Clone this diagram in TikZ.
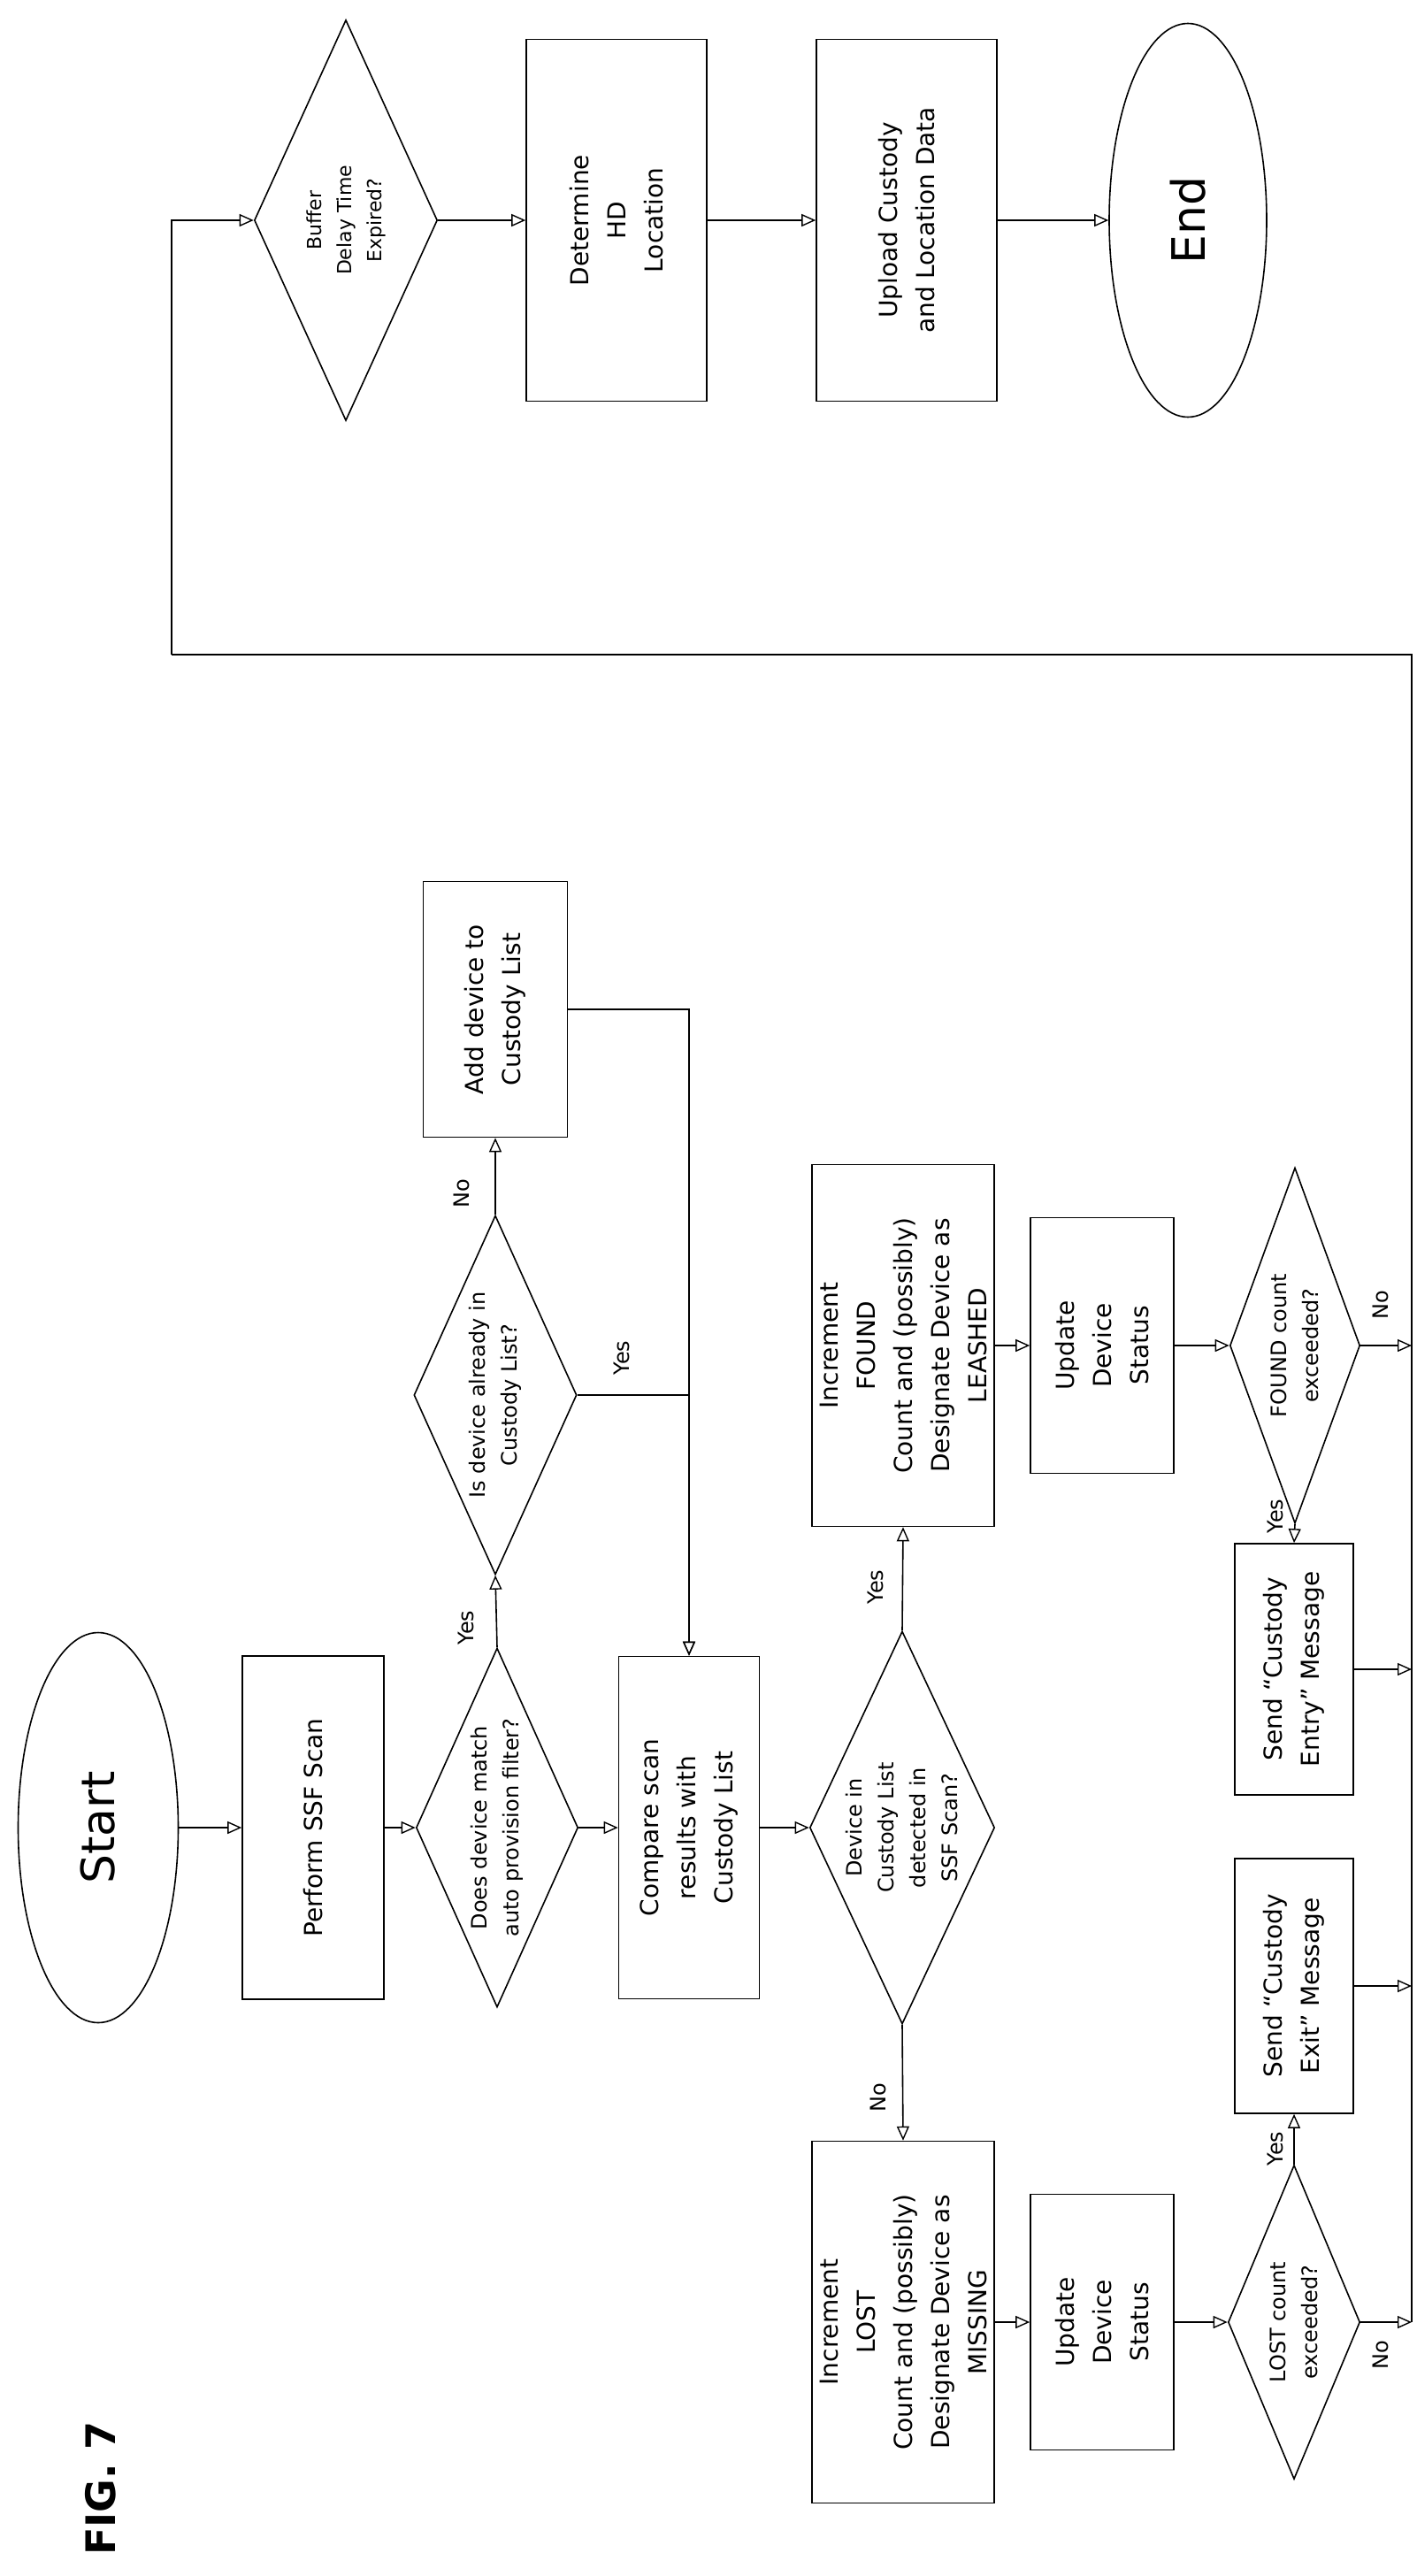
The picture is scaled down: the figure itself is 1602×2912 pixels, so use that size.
\documentclass[tikz,border=0pt]{standalone}
\usepackage{fontspec}
\setmainfont{DejaVu Sans}
\usetikzlibrary{arrows.meta,positioning,shapes.geometric}
\tikzset{
  font={\fontsize{28pt}{42pt}\selectfont}}
\begin{document}
\begin{tikzpicture}[x=1pt,y=1pt,
    block_box/.style ={rectangle, draw=black, line width=1.6pt, fill=white,
      rotate=90, align=center, inner sep=4pt},
    block_ask/.style ={diamond, draw=black, line width=1.6pt, fill=white,
      rotate=90, inner sep=0pt},
    ask_text/.style ={rotate=90, align=center, inner sep=0pt,
      font={\fontsize{24pt}{36pt}\selectfont}},
    block_end/.style ={ellipse, draw=black, line width=1.6pt, fill=white,
      rotate=90, font={\fontsize{52pt}{60pt}\selectfont}},
    block_label/.style ={rotate=90, font={\fontsize{24pt}{28pt}\selectfont}},
    paths2/.style={black, draw, line width=1.6pt,
      arrows={-Triangle[open, length=16pt, width=14pt, line width=1.4pt]}},
    paths_plain/.style={black, draw, line width=1.6pt}]
    \useasboundingbox (0,0) rectangle (1602,-2912);
    % main row
    \node[block_end, minimum width=441, minimum height=181] (start) at (111,-2066) {Start};
    \node[block_box, minimum width=388, minimum height=160] (ssf) at (354,-2066) {Perform SSF Scan};
    \node[block_ask, minimum width=406, minimum height=183] (match) at (562,-2066) {};
    \node[ask_text] (match_txt) at (match) {Does device match\\auto provision filter?};
    \node[block_box, minimum width=387, minimum height=159] (compare) at (779,-2066) {Compare scan\\results with\\Custody List};
    \node[block_ask, minimum width=444, minimum height=209] (detect) at (1020,-2066) {};
    \node[ask_text] (detect_txt) at (detect) {Device in\\Custody List\\detected in\\SSF Scan?};
    % auto provision branch
    \node[block_ask, minimum width=406, minimum height=184] (already) at (560,-1577) {};
    \node[ask_text] (already_txt) at (already) {Is device already in\\Custody List?};
    \node[block_box, minimum width=289, minimum height=163] (addlist) at (560,-1141) {Add device to\\Custody List};
    % found branch
    \node[block_box, minimum width=409, minimum height=206] (found) at (1021,-1521) {Increment\\FOUND\\Count and (possibly)\\Designate Device as\\LEASHED};
    \node[block_box, minimum width=289, minimum height=162] (upd_found) at (1246,-1521) {Update\\Device\\Status};
    \node[block_ask, minimum width=402, minimum height=147] (found_exc) at (1464,-1521) {};
    \node[ask_text] (found_exc_txt) at (found_exc) {FOUND count\\exceeded?};
    \node[block_box, minimum width=284, minimum height=134] (entry) at (1463,-1887) {Send ``Custody\\Entry'' Message};
    % lost branch
    \node[block_box, minimum width=409, minimum height=206] (lost) at (1021,-2625) {Increment\\LOST\\Count and (possibly)\\Designate Device as\\MISSING};
    \node[block_box, minimum width=289, minimum height=162] (upd_lost) at (1246,-2625) {Update\\Device\\Status};
    \node[block_ask, minimum width=355, minimum height=149] (lost_exc) at (1463,-2625) {};
    \node[ask_text] (lost_exc_txt) at (lost_exc) {LOST count\\exceeded?};
    \node[block_box, minimum width=288, minimum height=134] (exit) at (1463,-2245) {Send ``Custody\\Exit'' Message};
    % final row
    \node[block_ask, minimum width=453, minimum height=207] (buffer) at (391,-249) {};
    \node[ask_text, font={\fontsize{22pt}{34pt}\selectfont}] (buffer_txt) at (buffer) {Buffer\\Delay Time\\Expired?};
    \node[block_box, minimum width=409, minimum height=204] (locate) at (697,-249) {Determine\\HD\\Location};
    \node[block_box, minimum width=409, minimum height=204] (upload) at (1025,-249) {Upload Custody\\and Location Data};
    \node[block_end, minimum width=445, minimum height=178] (finish) at (1343,-249) {End};
    \node[rotate=90, font={\fontsize{46pt}{50pt}\bfseries\selectfont}] (fig) at (114,-2813) {FIG. 7};
    % loop corners
    \coordinate (loop_br) at (1596,-2625);
    \coordinate (loop_tr) at (1596,-740);
    \coordinate (loop_tl) at (194,-740);
    % labels
    \node[block_label] (lbl_yes1) at (527,-1840) {Yes};
    \node[block_label] (lbl_no1) at (522,-1349) {No};
    \node[block_label] (lbl_yes2) at (703,-1535) {Yes};
    \node[block_label] (lbl_yes3) at (990,-1794) {Yes};
    \node[block_label] (lbl_no2) at (993,-2371) {No};
    \node[block_label] (lbl_yes4) at (1442,-1714) {Yes};
    \node[block_label] (lbl_no3) at (1561,-1475) {No};
    \node[block_label] (lbl_yes5) at (1442,-2429) {Yes};
    \node[block_label] (lbl_no4) at (1561,-2662) {No};
    % connecting nodes with paths
    \begin{scope}[every path/.style=paths2]
      \path (start.south)--(ssf.north);
      \path (ssf.south)--(match.north);
      \path (match.south)--(compare.north);
      \path (compare.south)--(detect.north);
      \path (match.east)--(already.west);
      \path (already.east)--(addlist.west);
      \path (addlist.south)-|(compare.east);
      \path (already.south)-|(compare.east);
      \path (detect.east)--(found.west);
      \path (detect.west)--(lost.east);
      \path (found.south)--(upd_found.north);
      \path (upd_found.south)--(found_exc.north);
      \path (found_exc.west)--(entry.east);
      \path (found_exc.south)--(found_exc.south -| loop_tr);
      \path (entry.south)--(entry.south -| loop_tr);
      \path (lost.south)--(upd_lost.north);
      \path (upd_lost.south)--(lost_exc.north);
      \path (lost_exc.east)--(exit.west);
      \path (exit.south)--(exit.south -| loop_tr);
      \path (lost_exc.south)--(loop_br);
      \path (buffer.south)--(locate.north);
      \path (locate.south)--(upload.north);
      \path (upload.south)--(finish.north);
    \end{scope}
    \path[paths_plain] (loop_br)--(loop_tr)--(loop_tl);
    \path[paths2] (loop_tl)|-(buffer.north);
\end{tikzpicture}
\end{document}
